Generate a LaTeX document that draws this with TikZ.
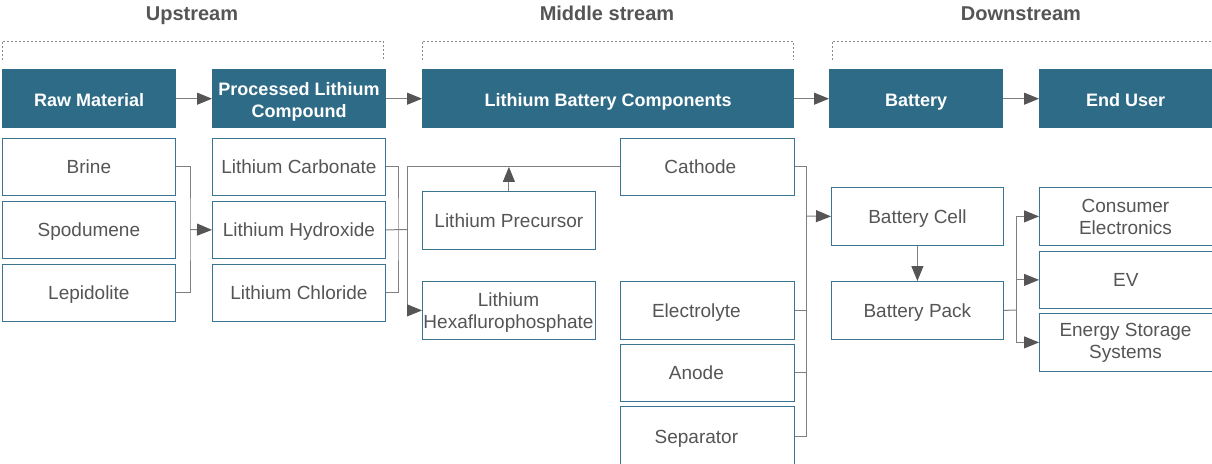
\documentclass[tikz,border=0pt]{standalone}
\usepackage{fontspec}
\setmainfont{Liberation Sans}
\usetikzlibrary{arrows.meta}
\definecolor{hdrblue}{HTML}{2D6B87}
\definecolor{boxblue}{HTML}{3A7491}
\definecolor{txtgray}{HTML}{555555}
\definecolor{linegray}{HTML}{7F7F7F}
\definecolor{arrgray}{HTML}{555555}
\definecolor{dashgray}{HTML}{8A8A8A}
\begin{document}
\begin{tikzpicture}[x=1pt,y=-1pt,
  hdr/.style={fill=hdrblue, text=white, font=\fontsize{18}{22}\selectfont\bfseries,
    minimum height=59pt, inner sep=0pt, align=center, anchor=north west},
  hdrtxt/.style={text=white, font=\fontsize{18}{22}\selectfont\bfseries, inner sep=0pt, align=center},
  item/.style={draw=boxblue, line width=0.8pt, fill=white, text=txtgray,
    font=\fontsize{19}{22}\selectfont, minimum height=57pt, inner sep=0pt,
    align=center, anchor=north west},
  itxt/.style={text=txtgray, font=\fontsize{19}{22}\selectfont, inner sep=0pt, align=center},
  one/.style={text height=13.6pt, text depth=0pt},
  onehdr/.style={text height=16pt, text depth=0pt},
  ttl/.style={text=txtgray, font=\fontsize{20}{22}\selectfont\bfseries, inner sep=0pt, anchor=base},
  conn/.style={draw=linegray, line width=1pt},
  arr/.style={conn, -{Triangle[length=15pt,width=12pt,color=arrgray]}},
  brk/.style={draw=dashgray, line width=0.8pt, dash pattern=on 2pt off 2pt}
]
\useasboundingbox (0,0) rectangle (1212,463);

% titles
\node[ttl] (tup) at (192,20.5) {Upstream};
\node[ttl] (tmid) at (607,20.5) {Middle stream};
\node[ttl] (tdown) at (1021,20.5) {Downstream};

% dashed brackets
\draw[brk] (2,60) -- (2,41) -- (383,41) -- (383,60);
\draw[brk] (422,60) -- (422,41) -- (793,41) -- (793,60);
\draw[brk] (832,60) -- (832,41) -- (1212,41);

% headers
\node[hdr, onehdr, minimum width=174pt] (raw) at (2,69) {Raw Material};
\node[hdr, minimum width=174pt] (proc) at (212,69) {};
\node[hdrtxt] (proctxt) at (299,102) {Processed Lithium\\Compound};
\node[hdr, onehdr, minimum width=372pt] (lbc) at (422,69) {Lithium Battery Components};
\node[hdr, onehdr, minimum width=174pt] (bat) at (829,69) {Battery};
\node[hdr, onehdr, minimum width=173pt] (endu) at (1039,69) {End User};

\draw[arr] (raw.east) -- (proc.west);
\draw[arr] (proc.east) -- (lbc.west);
\draw[arr] (lbc.east) -- (bat.west);
\draw[arr] (bat.east) -- (endu.west);

% column 1
\node[item, one, minimum width=173pt] (brine) at (2,138) {Brine};
\node[item, one, minimum width=173pt] (spod) at (2,201) {Spodumene};
\node[item, one, minimum width=173pt] (lepi) at (2,264) {Lepidolite};
% column 2
\node[item, one, minimum width=173pt] (carb) at (212,138) {Lithium Carbonate};
\node[item, one, minimum width=173pt] (hydr) at (212,201) {Lithium Hydroxide};
\node[item, one, minimum width=173pt] (chlo) at (212,264) {Lithium Chloride};
% column 3
\node[item, one, minimum width=173pt, minimum height=58pt] (prec) at (422,191) {Lithium Precursor};
\node[item, minimum width=173pt, minimum height=58pt] (hexa) at (422,281) {};
\node[itxt] (hexatxt) at (508.5,312.5) {Lithium\\Hexaflurophosphate};
% column 4
\node[item, one, minimum width=174pt] (cath) at (620,138) {\hspace*{-14pt}Cathode};
\node[item, one, minimum width=174pt, minimum height=58pt] (elec) at (620,281) {\hspace*{-22pt}Electrolyte};
\node[item, one, minimum width=174pt] (anod) at (620,344) {\hspace*{-22pt}Anode};
\node[item, one, minimum width=174pt, minimum height=60pt] (sepa) at (620,406) {\hspace*{-22pt}Separator};
% column 5
\node[item, one, minimum width=172pt, minimum height=58pt] (cell) at (831,187) {Battery Cell};
\node[item, one, minimum width=172pt, minimum height=58pt] (pack) at (831,281) {Battery Pack};
% column 6
\node[item, minimum width=173pt, minimum height=58pt] (cons) at (1039,187) {};
\node[itxt] (constxt) at (1125.5,217) {Consumer\\Electronics};
\node[item, one, minimum width=173pt] (ev) at (1039,251) {EV};
\node[item, minimum width=173pt, minimum height=58pt] (ess) at (1039,313) {};
\node[itxt] (esstxt) at (1125.5,343) {Energy Storage\\Systems};

% junctions
\coordinate (j1) at (190,229.5);
\coordinate (j2) at (398,229.5);
\coordinate (j3) at (407,229.5);
\coordinate (j4) at (806,216);
\coordinate (j5) at (1016,310);

% upstream connectors
\draw[conn] (brine.east) -| (j1) |- (lepi.east);
\draw[arr] (j1) -- (hydr.west);
\draw[conn] (carb.east) -| (j2) |- (chlo.east);
\draw[conn] (hydr.east) -- (j3);
\draw[conn] (cath.west) -| (j3);
\draw[arr] (j3) |- (hexa.west);
\draw[arr] (prec.north) -- (prec.north |- cath.west);

% middle connectors
\draw[conn] (cath.east) -| (j4);
\draw[conn] (j4) |- (sepa.east);
\draw[conn] (elec.east) -- (elec.east -| j4);
\draw[conn] (anod.east) -- (anod.east -| j4);
\draw[arr] (j4) -- (cell.west);

% downstream connectors
\draw[arr] (cell.south) -- (pack.north);
\draw[conn] (pack.east) -- (j5);
\draw[arr] (j5) |- (cons.west);
\draw[arr] (j5) |- (ev.west);
\draw[arr] (j5) |- (ess.west);
\end{tikzpicture}
\end{document}
